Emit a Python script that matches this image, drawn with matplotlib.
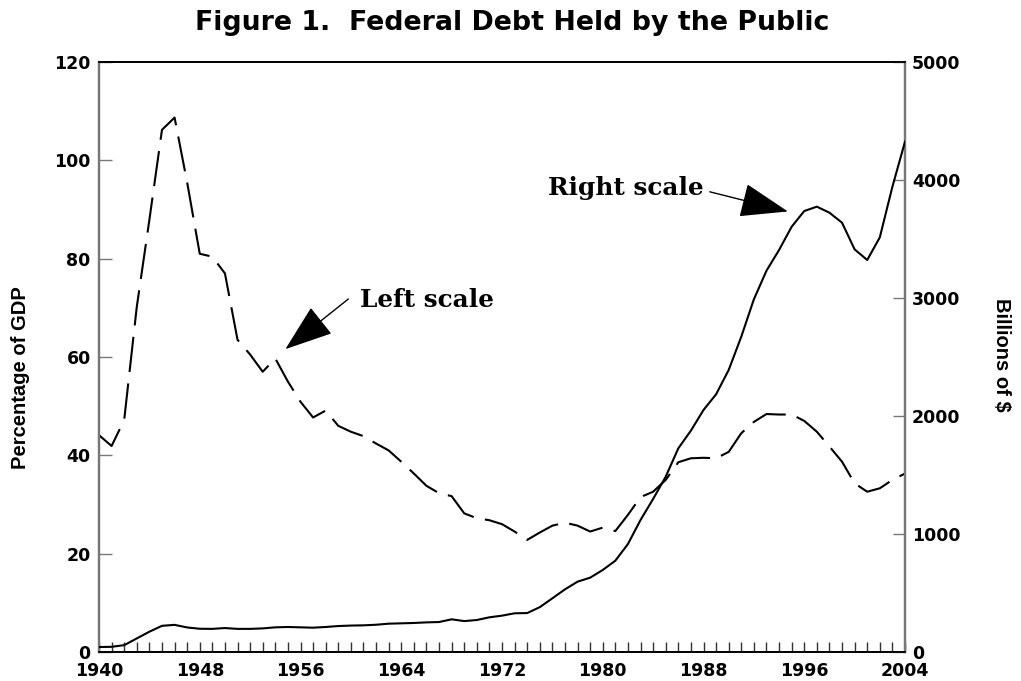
import matplotlib
matplotlib.use("Agg")
import matplotlib.pyplot as plt
from matplotlib import font_manager
from matplotlib.ticker import MultipleLocator

# ---------------- data ----------------
years = list(range(1940, 2005))

pct_gdp = [44.1, 41.9, 47.2, 70.2, 87.9, 106.2, 108.7, 95.5, 81.0, 80.4,
           77.0, 63.5, 60.5, 57.0, 59.7, 55.0, 50.9, 47.7, 49.1, 46.0,
           44.8, 43.9, 42.4, 41.0, 38.7, 36.3, 33.8, 32.3, 31.7, 28.2,
           27.2, 26.8, 26.0, 24.5, 22.8, 24.3, 25.7, 26.3, 25.7, 24.5,
           25.3, 24.6, 27.9, 31.5, 32.6, 35.0, 38.6, 39.4, 39.5, 39.4,
           40.7, 44.5, 46.8, 48.4, 48.3, 48.3, 47.0, 44.8, 41.8, 38.7,
           34.3, 32.6, 33.3, 35.0, 36.3]

billions = [42, 44, 58, 115, 172, 222, 230, 208, 197, 196,
            203, 196, 196, 200, 209, 212, 209, 206, 212, 220,
            224, 226, 231, 240, 243, 246, 251, 254, 277, 262,
            271, 294, 308, 328, 330, 380, 455, 531, 596, 630,
            695, 774, 915, 1119, 1297, 1486, 1726, 1876, 2051, 2184,
            2390, 2672, 2989, 3231, 3407, 3604, 3737, 3774, 3723, 3638,
            3412, 3322, 3514, 3943, 4325]

x_ticks = [1940, 1948, 1956, 1964, 1972, 1980, 1988, 1996, 2004]
left_ticks = [0, 20, 40, 60, 80, 100, 120]
right_ticks = [0, 1000, 2000, 3000, 4000, 5000]

title = "Figure 1.  Federal Debt Held by the Public"
left_label = "Percentage of GDP"
right_label = "Billions of $"
right_note = "Right scale"
left_note = "Left scale"

# ---------------- fonts ----------------
names = {f.name for f in font_manager.fontManager.ttflist}
if "Liberation Sans Narrow" in names:
    lab_fam, lab_size = "Liberation Sans Narrow", 17.5
else:
    lab_fam, lab_size = "Liberation Sans", 14.5

tick_font = dict(family="DejaVu Sans", weight="bold", size=12.5)

# ---------------- figure ----------------
fig = plt.figure(figsize=(10.21, 6.81), dpi=100)
ax = fig.add_axes([99 / 1021, 1 - 652 / 681, 806 / 1021, 590 / 681])
ax2 = ax.twinx()

ax.plot(years, pct_gdp, color="black", lw=1.5, dashes=(17, 5.5),
        solid_joinstyle="miter", zorder=3)
ax2.plot(years, billions, color="black", lw=1.5, zorder=3)

ax.set_xlim(1940, 2004)
ax.set_ylim(0, 120)
ax2.set_ylim(0, 5000)

ax.set_xticks(x_ticks)
ax.set_xticklabels([str(v) for v in x_ticks], fontdict=tick_font)
ax.xaxis.set_minor_locator(MultipleLocator(1))
ax.set_yticks(left_ticks)
ax.set_yticklabels([str(v) for v in left_ticks], fontdict=tick_font)
ax2.set_yticks(right_ticks)
ax2.set_yticklabels([str(v) for v in right_ticks], fontdict=tick_font)

ax.tick_params(axis="x", which="both", direction="in", length=7.5, width=1.0,
               color="#333333", pad=7, top=False)
ax.tick_params(axis="y", which="both", direction="in", length=9.5, width=1.0,
               color="#777777", pad=6, right=False)
ax2.tick_params(axis="y", direction="in", length=9, width=1.0,
                color="#777777", pad=5)

for a in (ax, ax2):
    a.spines["left"].set_color("#777777")
    a.spines["right"].set_color("#777777")
    a.spines["left"].set_linewidth(1.6)
    a.spines["right"].set_linewidth(1.6)
    a.spines["top"].set_color("black")
    a.spines["bottom"].set_color("black")
    a.spines["top"].set_linewidth(1.3)
    a.spines["bottom"].set_linewidth(1.3)

fig.text(512 / 1021, 1 - 23 / 681, title, ha="center", va="center",
         family="DejaVu Sans", weight="bold", size=19.3)

fig.text(20 / 1021, 1 - 378 / 681, left_label, rotation=90, ha="center",
         va="center", family=[lab_fam, "DejaVu Sans"], weight="bold", size=lab_size)
fig.text(1001 / 1021, 1 - 355 / 681, right_label, rotation=-90, ha="center",
         va="center", family=[lab_fam, "DejaVu Sans"], weight="bold", size=lab_size)

arrow = dict(arrowstyle="-|>,head_length=1.4,head_width=0.5", lw=1.0,
             color="black", mutation_scale=22, shrinkA=0, shrinkB=0)

ax.text(1975.65, 94.4, right_note, ha="left", va="center",
        family="DejaVu Serif", weight="bold", size=17.8)
ax.annotate("", xy=(1994.7, 89.6), xytext=(1988.5, 93.6), arrowprops=arrow)

ax.text(1960.7, 71.6, left_note, ha="left", va="center",
        family="DejaVu Serif", weight="bold", size=17.8)
ax.annotate("", xy=(1954.8, 61.6), xytext=(1959.8, 71.8), arrowprops=arrow)

fig.savefig("out.png", dpi=100)
